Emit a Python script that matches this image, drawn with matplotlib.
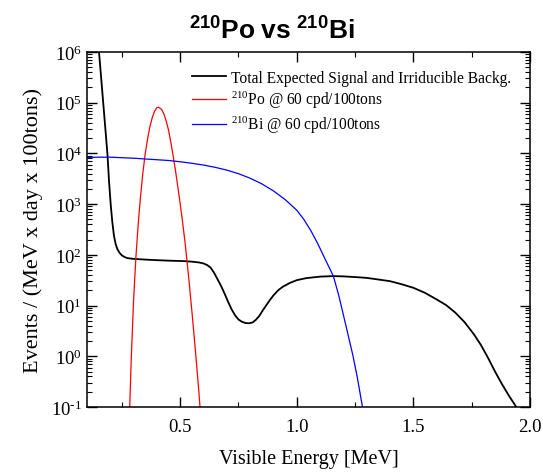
import numpy as np
import matplotlib
matplotlib.use("Agg")
import matplotlib.pyplot as plt
from matplotlib.ticker import LogLocator, MultipleLocator, NullFormatter, FuncFormatter

plt.rcParams['font.family'] = ['Liberation Serif', 'DejaVu Serif']
plt.rcParams['mathtext.fontset'] = 'custom'
plt.rcParams['mathtext.rm'] = 'Liberation Serif'
plt.rcParams['mathtext.it'] = 'Liberation Serif:italic'
plt.rcParams['mathtext.bf'] = 'Liberation Sans:bold'
plt.rcParams['axes.unicode_minus'] = False

# Total expected signal and irreducible background (energy MeV, log10 events)
tot_E = [0.146, 0.152, 0.170, 0.188, 0.195, 0.202, 0.209, 0.216, 0.223, 0.230,
         0.240, 0.250, 0.262, 0.274, 0.300, 0.374, 0.45, 0.517, 0.55, 0.58,
         0.60, 0.615, 0.63, 0.645, 0.66, 0.675, 0.69, 0.705, 0.72, 0.735,
         0.75, 0.765, 0.78, 0.795, 0.81, 0.825, 0.84, 0.855, 0.87, 0.885,
         0.90, 0.92, 0.94, 0.97, 1.00, 1.04, 1.10, 1.155, 1.20, 1.255,
         1.30, 1.355, 1.40, 1.45, 1.50, 1.55, 1.60, 1.64, 1.68, 1.72,
         1.76, 1.79, 1.82, 1.85, 1.88, 1.91, 1.935, 1.96]
tot_log = [6.3, 6.0, 5.0, 4.0, 3.45, 3.0, 2.65, 2.38, 2.22, 2.12,
           2.04, 1.99, 1.955, 1.935, 1.92, 1.90, 1.885, 1.876, 1.865, 1.85,
           1.83, 1.80, 1.75, 1.65, 1.52, 1.39, 1.24, 1.08, 0.93, 0.81,
           0.725, 0.68, 0.655, 0.65, 0.665, 0.72, 0.80, 0.91, 1.01, 1.11,
           1.20, 1.30, 1.37, 1.445, 1.50, 1.54, 1.57, 1.58, 1.575, 1.56,
           1.545, 1.51, 1.48, 1.42, 1.35, 1.25, 1.12, 1.01, 0.86, 0.67,
           0.43, 0.22, -0.03, -0.30, -0.55, -0.78, -0.955, -1.15]

# 210Po @ 60 cpd/100tons
po_E = [0.28, 0.29, 0.30, 0.31, 0.32, 0.33, 0.34, 0.35, 0.36, 0.37, 0.38,
        0.39, 0.40, 0.407, 0.42, 0.43, 0.44, 0.45, 0.46, 0.47, 0.48, 0.49,
        0.50, 0.51, 0.52, 0.53, 0.54, 0.55, 0.56, 0.57, 0.58, 0.59, 0.60]
po_log = [-1.54, -0.09, 1.08, 1.94, 2.60, 3.15, 3.61, 3.99, 4.28, 4.52, 4.70,
          4.83, 4.90, 4.91, 4.87, 4.78, 4.64, 4.46, 4.22, 3.95, 3.66, 3.34,
          3.01, 2.66, 2.28, 1.85, 1.39, 0.90, 0.39, -0.14, -0.69, -1.29, -1.9]

# 210Bi @ 60 cpd/100tons
bi_E = [0.10, 0.15, 0.20, 0.25, 0.30, 0.35, 0.40, 0.45, 0.50, 0.55, 0.60,
        0.65, 0.70, 0.75, 0.80, 0.85, 0.90, 0.95, 1.00, 1.03, 1.06, 1.09,
        1.12, 1.157, 1.18, 1.21, 1.24, 1.259, 1.276, 1.29]
bi_log = [3.92, 3.925, 3.925, 3.915, 3.905, 3.89, 3.875, 3.86, 3.835, 3.805, 3.77,
          3.725, 3.67, 3.60, 3.51, 3.40, 3.26, 3.09, 2.88, 2.70, 2.48, 2.22,
          1.93, 1.58, 1.20, 0.62, 0.03, -0.40, -0.85, -1.2]


def ytick_fmt(v, pos):
    e = int(round(np.log10(v)))
    s = str(e).replace('-', '\u2010')
    return r'$10^{%s}$' % s


fig = plt.figure(figsize=(5.43, 4.77), dpi=100)
ax = fig.add_axes([0.160, 0.1447, 0.816, 0.7443])

ax.plot(tot_E, 10 ** np.array(tot_log), color='black', lw=1.3,
        label='Total Expected Signal and Irriducible Backg.')
ax.plot(po_E, 10 ** np.array(po_log), color='red', lw=0.9,
        label=r'$^{210}$Po @ 60 cpd/100tons')
ax.plot(bi_E, 10 ** np.array(bi_log), color='blue', lw=0.9,
        label=r'$^{210}$Bi @ 60 cpd/100tons')

ax.set_yscale('log')
ax.set_xlim(0.1, 2.0)
ax.set_ylim(1e-1, 1e6)
ax.xaxis.set_major_locator(MultipleLocator(0.5))
ax.xaxis.set_minor_locator(MultipleLocator(0.25))
ax.xaxis.set_major_formatter(matplotlib.ticker.FormatStrFormatter('%.1f'))
ax.yaxis.set_major_locator(LogLocator(base=10, numticks=20))
ax.yaxis.set_major_formatter(FuncFormatter(ytick_fmt))
ax.yaxis.set_minor_locator(LogLocator(base=10, subs=np.arange(2, 10), numticks=20))
ax.yaxis.set_minor_formatter(NullFormatter())
ax.tick_params(which='both', direction='in', top=True, right=True, labelsize=13.5)
ax.tick_params(which='major', length=7, width=1)
ax.tick_params(which='minor', length=3.5, width=0.8)
ax.tick_params(axis='x', pad=8)
for s in ax.spines.values():
    s.set_linewidth(1.1)

ax.set_xlabel('Visible Energy [MeV]', fontsize=14.5, labelpad=10)
ax.set_ylabel('Events / (MeV x day x 100tons)', fontsize=16, labelpad=6)

fig.text(0.5, 0.935, r'$\mathbf{^{210}Po\ vs\ ^{210}Bi}$', ha='center', va='center',
         fontsize=19)

leg = ax.legend(loc='upper right', frameon=False, fontsize=11.2, handlelength=2.2,
                handletextpad=0.3, labelspacing=0.22, borderaxespad=0.4,
                bbox_to_anchor=(0.985, 0.985))

fig.savefig('out.png', dpi=100)
